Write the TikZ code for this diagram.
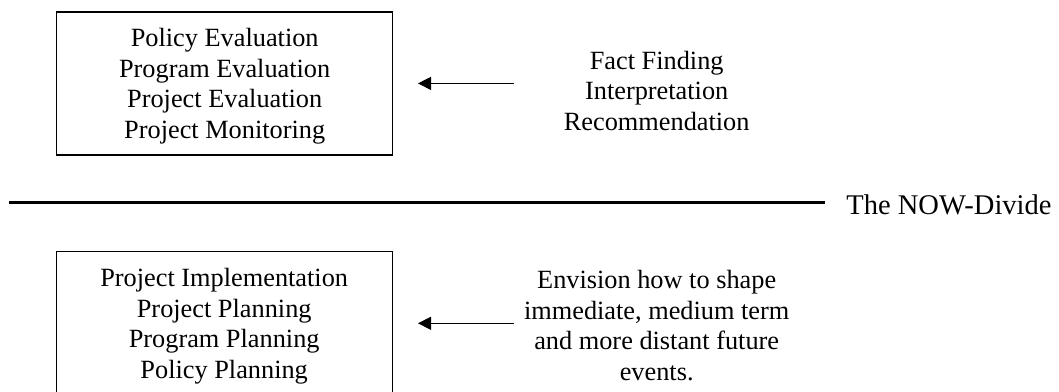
\documentclass[tikz,border=0pt]{standalone}
\usepackage{fontspec}
\setmainfont{Liberation Serif}
\usetikzlibrary{arrows.meta}
\begin{document}
\begin{tikzpicture}[x=0.456pt,y=-0.456pt,
  framebox/.style={draw,line width=0.7pt,minimum width=153.2pt,minimum height=65.3pt,inner sep=0pt},
  listtext/.style={align=center,inner sep=0pt,font=\fontsize{12}{13.9}\selectfont},
  conn/.style={line width=0.6pt,-{Triangle[length=6pt,width=6pt]}},
  divider/.style={line width=1.6pt}]
\useasboundingbox (0,0) rectangle (1059,391);
% top half
\node[framebox] (evalbox) at (224.7,83.4) {};
\node[listtext] (eval) at (224.7,86.2) {Policy Evaluation\\Program Evaluation\\Project Evaluation\\Project Monitoring};
\node[listtext] (facts) at (656.7,90.8) {Fact Finding\\Interpretation\\Recommendation};
\coordinate (t1) at (514,83.4);
\draw[conn] (t1) -- (evalbox.east -| 418,0);
% divider
\coordinate (d1) at (9,202.5);
\coordinate (d2) at (825,202.5);
\draw[divider] (d1) -- (d2);
\node[anchor=base west,inner sep=0pt,font=\fontsize{13}{15}\selectfont] (now) at (846,214.3) {The NOW-Divide};
% bottom half
\node[framebox] (planbox) at (224.7,323.3) {};
\node[listtext] (plan) at (224.2,326) {Project Implementation\\Project Planning\\Program Planning\\Policy Planning};
\node[listtext] (env) at (656.7,325.5) {Envision how to shape\\immediate, medium term\\and more distant future\\events.};
\coordinate (t2) at (514,323.3);
\draw[conn] (t2) -- (planbox.east -| 418,0);
\end{tikzpicture}
\end{document}
